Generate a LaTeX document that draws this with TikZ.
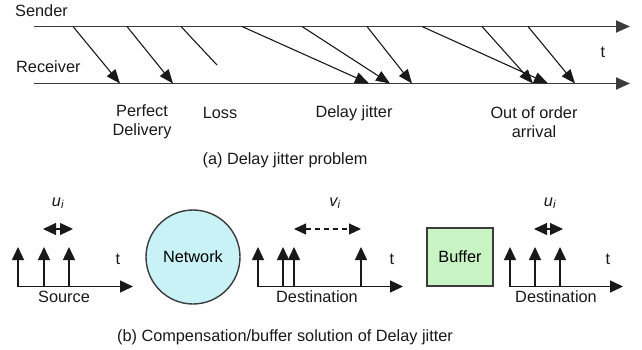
\documentclass[tikz,border=0pt]{standalone}
\usepackage{fontspec}
\setmainfont{Liberation Sans}
\usetikzlibrary{arrows.meta}
\definecolor{ink}{RGB}{25,25,25}
\definecolor{netfill}{RGB}{200,242,246}
\definecolor{buffill}{RGB}{200,244,196}
\tikzset{
  axisline/.style={draw=ink!85, line width=1.8pt, -{Triangle[length=14pt,width=12pt]}},
  msg/.style={draw=ink, line width=1.1pt, -{Triangle[length=14pt,width=11pt]}},
  lost/.style={draw=ink, line width=1.1pt},
  taxis/.style={draw=ink, line width=1.4pt, -{Triangle[length=13pt,width=12pt]}},
  pkt/.style={draw=ink, line width=1.4pt, -{Triangle[length=13pt,width=12pt]}},
  spread/.style={draw=ink, line width=1.2pt, {Triangle[length=13pt,width=12pt]}-{Triangle[length=13pt,width=12pt]}},
  dspread/.style={draw=ink, line width=1.2pt, dash pattern=on 5pt off 4pt,
    {Triangle[length=12pt,width=11pt]}-{Triangle[length=12pt,width=11pt]}},
  lbl/.style={inner sep=0pt, text=ink, align=center},
}
\begin{document}
\begin{tikzpicture}[x=1pt, y=-1pt, font=\fontsize{16.3}{19}\selectfont]
\useasboundingbox (0,0) rectangle (642,350);

% ---------- (a) sender / receiver time lines ----------
\coordinate (s0) at (34,26.5);  \coordinate (s1) at (630,26.5);
\coordinate (r0) at (34,83.5);  \coordinate (r1) at (630,83.5);
\draw[axisline] (s0) -- (s1);
\draw[axisline] (r0) -- (r1);
\node[lbl, anchor=west] (sender) at (15,11) {Sender};
\node[lbl, anchor=west] (receiver) at (16,67) {Receiver};
\node[lbl] (ta) at (603,52) {t};

% packets: send time / arrival time
\foreach \i/\a/\b in {1/73/120, 2/127/173, 4/242/369, 5/302/390, 6/367/412,
                      7/422/548, 8/482/533, 9/528/575}{
  \coordinate (p\i) at (\a,26.5);
  \coordinate (q\i) at (\b,83.5);
  \draw[msg] (p\i) -- (q\i);
}
% lost packet
\coordinate (p3) at (181,26.5);
\coordinate (q3) at (217,65);
\draw[lost] (p3) -- (q3);

\node[lbl] (perfect) at (142,122) {Perfect\\Delivery};
\node[lbl] (loss) at (220,113) {Loss};
\node[lbl] (jitter) at (354,113) {Delay jitter};
\node[lbl] (ooo) at (534,122) {Out of order\\arrival};
\node[lbl] (capa) at (285,160) {(a) Delay jitter problem};

% ---------- (b) compensation with a buffer ----------
% source
\coordinate (so0) at (18,286.5); \coordinate (so1) at (133,286.5);
\draw[taxis] (so0) -- (so1);
\foreach \i/\x in {1/18, 2/44, 3/69}{
  \coordinate (sb\i) at (\x,286.5);
  \coordinate (st\i) at (\x,247);
  \draw[pkt] (sb\i) -- (st\i);
}
\node[lbl] (tsrc) at (118,259) {t};
\node[lbl] (src) at (64,297) {Source};
\coordinate (su0) at (43,229); \coordinate (su1) at (73,229);
\draw[spread] (su0) -- (su1);
\node[lbl] (usrc) at (58,203) {\itshape u\textsubscript{i}};

% network
\node[circle, draw=ink!85, line width=1.4pt, fill=netfill, minimum size=94pt,
      inner sep=0pt] (net) at (193,257) {Network};

% first destination
\coordinate (d0) at (258,286.5); \coordinate (d1) at (403,286.5);
\draw[taxis] (d0) -- (d1);
\foreach \i/\x in {1/258, 2/283, 3/294, 4/361}{
  \coordinate (db\i) at (\x,286.5);
  \coordinate (dt\i) at (\x,247);
  \draw[pkt] (db\i) -- (dt\i);
}
\node[lbl] (tdst) at (392,259) {t};
\node[lbl] (dst) at (317,297) {Destination};
\coordinate (dv0) at (294,229); \coordinate (dv1) at (361,229);
\draw[dspread] (dv0) -- (dv1);
\node[lbl] (vdst) at (335,203) {\itshape v\textsubscript{i}};

% buffer
\node[draw=ink!85, line width=1.4pt, fill=buffill, minimum width=66pt,
      minimum height=58pt, inner sep=0pt] (buf) at (460,257) {Buffer};

% second destination
\coordinate (e0) at (510,286.5); \coordinate (e1) at (623,286.5);
\draw[taxis] (e0) -- (e1);
\foreach \i/\x in {1/510, 2/535, 3/560}{
  \coordinate (eb\i) at (\x,286.5);
  \coordinate (et\i) at (\x,247);
  \draw[pkt] (eb\i) -- (et\i);
}
\node[lbl] (tout) at (608,259) {t};
\node[lbl] (out) at (556,297) {Destination};
\coordinate (eu0) at (534,229); \coordinate (eu1) at (563,229);
\draw[spread] (eu0) -- (eu1);
\node[lbl] (uout) at (550,203) {\itshape u\textsubscript{i}};

\node[lbl] (capb) at (285,337) {(b) Compensation/buffer solution of Delay jitter};
\end{tikzpicture}
\end{document}
